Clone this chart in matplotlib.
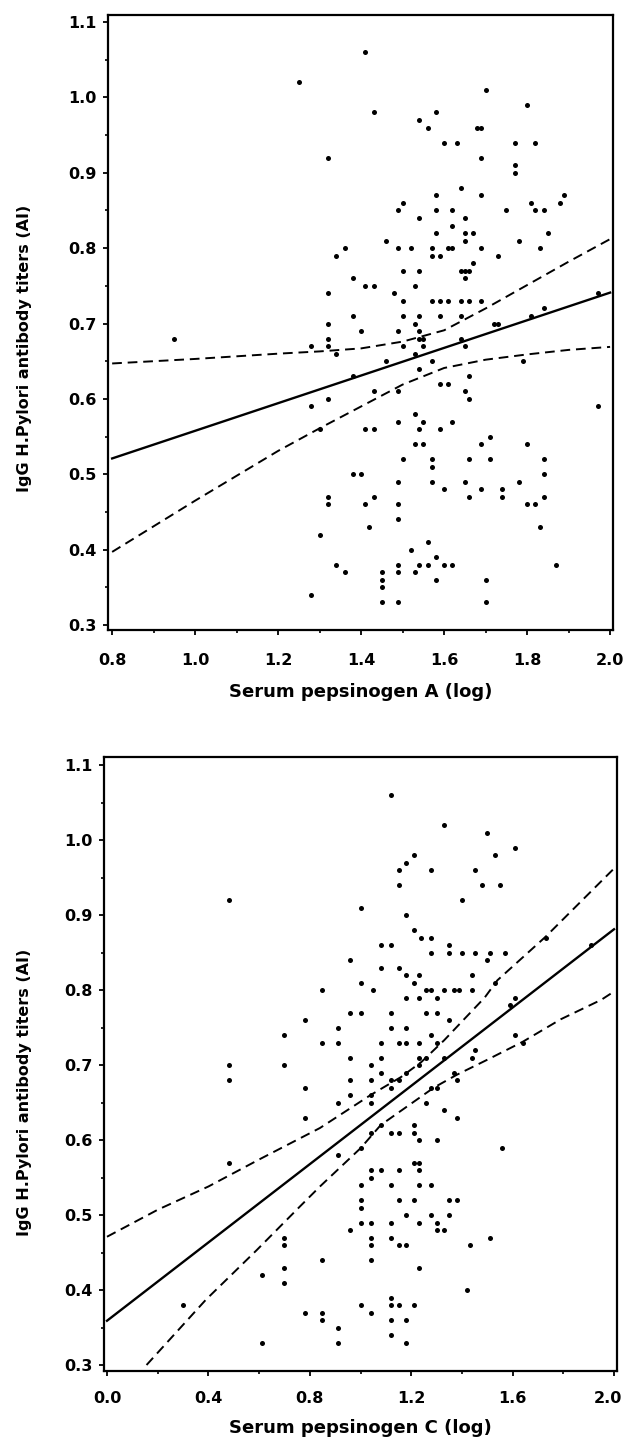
import numpy as np
import matplotlib
matplotlib.use("Agg")
import matplotlib.pyplot as plt
from matplotlib.ticker import MultipleLocator, FormatStrFormatter
from matplotlib.transforms import ScaledTranslation

plt.rcParams['font.family'] = ['DejaVu Sans']
plt.rcParams['font.weight'] = 'bold'

# --- data ---
# top panel: serum pepsinogen A (log) vs IgG titers
pga_points = [
    (1.25, 1.02), (1.41, 1.06), (1.43, 0.98), (1.32, 0.92), (1.70, 1.01), (1.80, 0.99),
    (1.54, 0.97), (1.58, 0.98), (1.56, 0.96), (1.68, 0.96), (1.69, 0.96), (1.60, 0.94),
    (1.63, 0.94), (1.77, 0.94), (1.82, 0.94), (1.69, 0.92), (1.77, 0.91), (1.77, 0.90),
    (1.64, 0.88), (1.58, 0.87), (1.69, 0.87), (1.50, 0.86), (1.49, 0.85), (1.58, 0.85),
    (1.62, 0.85), (1.54, 0.84), (1.65, 0.84), (1.62, 0.83), (1.58, 0.82), (1.65, 0.82),
    (1.67, 0.82), (1.65, 0.81), (1.46, 0.81), (1.49, 0.80), (1.52, 0.80), (1.57, 0.80),
    (1.61, 0.80), (1.62, 0.80), (1.57, 0.79), (1.59, 0.79), (1.69, 0.80), (1.73, 0.79),
    (1.36, 0.80), (1.34, 0.79), (1.67, 0.78), (1.50, 0.77), (1.54, 0.77), (1.64, 0.77),
    (1.65, 0.77), (1.66, 0.77), (1.65, 0.76), (1.38, 0.76), (1.41, 0.75), (1.43, 0.75),
    (1.53, 0.75), (1.48, 0.74), (1.32, 0.74), (1.50, 0.73), (1.57, 0.73), (1.59, 0.73),
    (1.61, 0.73), (1.64, 0.73), (1.66, 0.73), (1.69, 0.73), (1.38, 0.71), (1.50, 0.71),
    (1.54, 0.71), (1.59, 0.71), (1.64, 0.71), (1.53, 0.70), (1.72, 0.70), (1.73, 0.70),
    (1.81, 0.71), (1.84, 0.72), (1.97, 0.74), (1.32, 0.70), (1.40, 0.69), (1.49, 0.69),
    (1.54, 0.69), (1.32, 0.68), (1.64, 0.68), (1.88, 0.86), (1.89, 0.87), (1.81, 0.86),
    (1.82, 0.85), (1.84, 0.85), (1.75, 0.85), (1.85, 0.82), (1.78, 0.81), (1.83, 0.80),
    (0.95, 0.68), (1.28, 0.67), (1.28, 0.59), (1.30, 0.42), (1.28, 0.34), (1.32, 0.67),
    (1.34, 0.66), (1.32, 0.60), (1.38, 0.63), (1.50, 0.67), (1.53, 0.66), (1.54, 0.68),
    (1.55, 0.68), (1.55, 0.67), (1.65, 0.67), (1.46, 0.65), (1.57, 0.65), (1.54, 0.64),
    (1.43, 0.61), (1.49, 0.61), (1.59, 0.62), (1.61, 0.62), (1.66, 0.63), (1.65, 0.61),
    (1.66, 0.60), (1.79, 0.65), (1.97, 0.59), (1.30, 0.56), (1.41, 0.56), (1.43, 0.56),
    (1.49, 0.57), (1.53, 0.58), (1.55, 0.57), (1.54, 0.56), (1.59, 0.56), (1.62, 0.57),
    (1.53, 0.54), (1.55, 0.54), (1.69, 0.54), (1.71, 0.55), (1.80, 0.54), (1.50, 0.52),
    (1.57, 0.52), (1.57, 0.51), (1.66, 0.52), (1.71, 0.52), (1.84, 0.52), (1.84, 0.50),
    (1.38, 0.50), (1.40, 0.50), (1.49, 0.49), (1.57, 0.49), (1.65, 0.49), (1.78, 0.49),
    (1.60, 0.48), (1.69, 0.48), (1.74, 0.48), (1.32, 0.47), (1.32, 0.46), (1.43, 0.47),
    (1.41, 0.46), (1.49, 0.46), (1.66, 0.47), (1.74, 0.47), (1.80, 0.46), (1.82, 0.46),
    (1.84, 0.47), (1.42, 0.43), (1.49, 0.44), (1.83, 0.43), (1.56, 0.41), (1.52, 0.40),
    (1.34, 0.38), (1.36, 0.37), (1.45, 0.37), (1.45, 0.36), (1.45, 0.35), (1.45, 0.33),
    (1.49, 0.38), (1.49, 0.37), (1.49, 0.33), (1.53, 0.37), (1.54, 0.38), (1.56, 0.38),
    (1.58, 0.39), (1.58, 0.36), (1.60, 0.38), (1.62, 0.38), (1.70, 0.36), (1.70, 0.33),
    (1.87, 0.38),
]
pga_fit_x = [0.8, 2.0]
pga_fit_y = [0.521, 0.741]
pga_ci_x = [0.8, 1.0, 1.2, 1.3, 1.4, 1.5, 1.6, 1.7, 1.8, 1.9, 2.0]
pga_upper = [0.647, 0.653, 0.660, 0.663, 0.667, 0.676, 0.691, 0.720, 0.751, 0.782, 0.812]
pga_lower = [0.397, 0.465, 0.531, 0.561, 0.590, 0.619, 0.641, 0.652, 0.659, 0.665, 0.669]

# bottom panel: serum pepsinogen C (log) vs IgG titers
pgc_points = [
    (0.48, 0.92), (0.78, 0.76), (1.12, 1.06), (1.33, 1.02), (1.50, 1.01), (1.61, 0.99),
    (1.53, 0.98), (1.21, 0.98), (1.18, 0.97), (1.15, 0.96), (1.28, 0.96), (1.45, 0.96),
    (1.15, 0.94), (1.48, 0.94), (1.55, 0.94), (1.40, 0.92), (1.00, 0.91), (1.18, 0.90),
    (1.21, 0.88), (1.24, 0.87), (1.28, 0.87), (1.08, 0.86), (1.12, 0.86), (1.35, 0.86),
    (1.28, 0.85), (1.35, 0.85), (1.40, 0.85), (1.45, 0.85), (1.51, 0.85), (1.57, 0.85),
    (1.50, 0.84), (0.96, 0.84), (1.08, 0.83), (1.15, 0.83), (1.18, 0.82), (1.23, 0.82),
    (1.44, 0.82), (1.00, 0.81), (1.21, 0.81), (1.53, 0.81), (0.85, 0.80), (1.05, 0.80),
    (1.26, 0.80), (1.28, 0.80), (1.33, 0.80), (1.37, 0.80), (1.39, 0.80), (1.44, 0.80),
    (1.18, 0.79), (1.23, 0.79), (1.30, 0.79), (1.61, 0.79), (1.59, 0.78), (1.73, 0.87),
    (1.91, 0.86), (0.96, 0.77), (1.00, 0.77), (1.12, 0.77), (1.26, 0.77), (1.30, 0.77),
    (1.35, 0.76), (0.91, 0.75), (1.12, 0.75), (1.18, 0.75), (0.85, 0.73), (0.91, 0.73),
    (1.08, 0.73), (1.15, 0.73), (1.18, 0.73), (1.23, 0.73), (1.28, 0.74), (1.30, 0.73),
    (1.61, 0.74), (1.64, 0.73), (0.96, 0.71), (1.08, 0.71), (1.23, 0.71), (1.26, 0.71),
    (1.33, 0.71), (1.45, 0.72), (1.44, 0.71), (1.04, 0.70), (1.23, 0.70), (1.08, 0.69),
    (1.18, 0.69), (1.37, 0.69), (1.38, 0.68), (0.96, 0.68), (1.04, 0.68), (1.12, 0.68),
    (1.15, 0.68), (0.78, 0.67), (1.12, 0.67), (1.28, 0.67), (1.30, 0.67), (0.96, 0.66),
    (1.04, 0.66), (0.91, 0.65), (1.04, 0.65), (1.26, 0.65), (1.33, 0.64), (1.38, 0.63),
    (0.78, 0.63), (1.21, 0.62), (1.08, 0.62), (1.04, 0.61), (1.12, 0.61), (1.15, 0.61),
    (1.21, 0.61), (1.23, 0.60), (1.30, 0.60), (1.56, 0.59), (1.00, 0.59), (0.91, 0.58),
    (1.21, 0.57), (1.23, 0.57), (1.04, 0.56), (1.08, 0.56), (1.15, 0.56), (1.23, 0.56),
    (1.04, 0.55), (1.00, 0.54), (1.12, 0.54), (1.23, 0.54), (1.28, 0.54), (1.00, 0.52),
    (1.15, 0.52), (1.21, 0.52), (1.35, 0.52), (1.38, 0.52), (1.00, 0.51), (1.18, 0.50),
    (1.28, 0.50), (1.35, 0.50), (1.00, 0.49), (1.04, 0.49), (1.12, 0.49), (1.23, 0.49),
    (1.30, 0.49), (0.96, 0.48), (1.30, 0.48), (1.33, 0.48), (1.04, 0.47), (1.12, 0.47),
    (1.51, 0.47), (1.04, 0.46), (1.15, 0.46), (1.18, 0.46), (1.43, 0.46), (0.85, 0.44),
    (1.04, 0.44), (1.23, 0.43), (1.42, 0.40), (1.12, 0.39), (1.00, 0.38), (1.12, 0.38),
    (1.15, 0.38), (1.21, 0.38), (0.78, 0.37), (0.85, 0.37), (1.04, 0.37), (0.85, 0.36),
    (1.12, 0.36), (1.18, 0.36), (0.91, 0.35), (1.12, 0.34), (0.91, 0.33), (1.18, 0.33),
    (0.30, 0.38), (0.61, 0.33), (0.61, 0.42), (0.70, 0.43), (0.70, 0.41), (0.70, 0.74),
    (0.70, 0.70), (0.48, 0.70), (0.48, 0.68), (0.48, 0.57), (0.70, 0.47), (0.70, 0.46),
]
pgc_fit_x = [0.0, 2.0]
pgc_fit_y = [0.359, 0.881]
pgc_upper_x = [0.0, 0.2, 0.4, 0.6, 0.76, 0.84, 1.04, 1.16, 1.24, 1.33, 1.49, 1.54, 1.73, 2.0]
pgc_upper = [0.471, 0.507, 0.538, 0.574, 0.602, 0.616, 0.660, 0.684, 0.704, 0.733, 0.790, 0.813, 0.871, 0.962]
pgc_lower_x = [0.156, 0.39, 0.59, 0.76, 0.84, 1.0, 1.08, 1.29, 1.38, 1.50, 1.64, 1.79, 1.95, 2.0]
pgc_lower = [0.30, 0.387, 0.453, 0.511, 0.538, 0.589, 0.620, 0.670, 0.687, 0.707, 0.731, 0.761, 0.787, 0.798]

W, H = 624, 1441
fig = plt.figure(figsize=(W / 100, H / 100), dpi=100)


def px_axes(left, top, right, bottom):
    return fig.add_axes([left / W, 1 - bottom / H, (right - left) / W, (bottom - top) / H])


def style(ax, xlim, ylim, xmaj, xmin, xpad, ypad):
    ax.set_xlim(*xlim)
    ax.set_ylim(*ylim)
    ax.xaxis.set_major_locator(MultipleLocator(xmaj))
    ax.xaxis.set_minor_locator(MultipleLocator(xmin))
    ax.yaxis.set_major_locator(MultipleLocator(0.1))
    ax.yaxis.set_minor_locator(MultipleLocator(0.05))
    ax.xaxis.set_major_formatter(FormatStrFormatter('%.1f'))
    ax.yaxis.set_major_formatter(FormatStrFormatter('%.1f'))
    for s in ax.spines.values():
        s.set_linewidth(1.6)
    ax.tick_params(which='major', direction='out', length=3.5, width=1.3, labelsize=11.5)
    ax.tick_params(which='minor', direction='out', length=2.5, width=1.2)
    ax.tick_params(axis='x', which='major', pad=xpad)
    ax.tick_params(axis='y', which='major', pad=ypad)
    ax.tick_params(top=False, right=False, which='both')


dash = (5, 3)
ms = 13

# top panel
ax1 = px_axes(108, 15, 613, 630)
style(ax1, (0.790, 2.007), (0.2934, 1.1093), 0.2, 0.1, 13, 5)
p = np.array(pga_points)
ax1.scatter(p[:, 0], p[:, 1], s=ms, color='black', linewidths=0, zorder=3)
ax1.plot(pga_fit_x, pga_fit_y, color='black', lw=1.7)
ax1.plot(pga_ci_x, pga_upper, color='black', lw=1.4, dashes=dash)
ax1.plot(pga_ci_x, pga_lower, color='black', lw=1.4, dashes=dash)
ax1.set_xlabel('Serum pepsinogen A (log)', fontsize=13, fontweight='bold')
ax1.set_ylabel('IgG H.Pylori antibody titers (AI)', fontsize=11.5, fontweight='bold')
ax1.xaxis.set_label_coords(0.5, -62 / 615)
ax1.xaxis.label.set_va('center')
ax1.yaxis.set_label_coords(-(108 - 25) / 505, 1 - (348 - 15) / 615)
ax1.yaxis.label.set_va('center')

# bottom panel
ax2 = px_axes(104, 757, 617, 1371)
style(ax2, (-0.0118, 2.0118), (0.292, 1.1107), 0.4, 0.2, 11, 5)
q = np.array(pgc_points)
ax2.scatter(q[:, 0], q[:, 1], s=ms, color='black', linewidths=0, zorder=3)
ax2.plot(pgc_fit_x, pgc_fit_y, color='black', lw=1.7)
ax2.plot(pgc_upper_x, pgc_upper, color='black', lw=1.4, dashes=dash)
ax2.plot(pgc_lower_x, pgc_lower, color='black', lw=1.4, dashes=dash)
ax2.set_xlabel('Serum pepsinogen C (log)', fontsize=13, fontweight='bold')
ax2.set_ylabel('IgG H.Pylori antibody titers (AI)', fontsize=11.5, fontweight='bold')
ax2.xaxis.set_label_coords(0.5, -57 / 614)
ax2.xaxis.label.set_va('center')
ax2.yaxis.set_label_coords(-(104 - 25) / 513, 1 - (1092 - 757) / 614)
ax2.yaxis.label.set_va('center')

# keep the last tick label of the lower panel inside the figure
fig.canvas.draw()
last = [t for t in ax2.get_xticklabels() if t.get_text() == '2.0']
for t in last:
    t.set_transform(t.get_transform() + ScaledTranslation(-6 / 100, 0, fig.dpi_scale_trans))

fig.savefig('out.png', dpi=100)
